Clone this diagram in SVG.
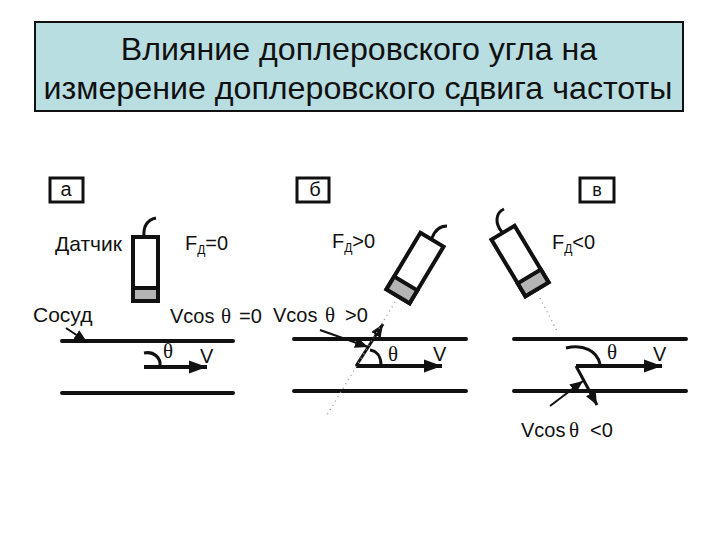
<svg xmlns="http://www.w3.org/2000/svg" width="720" height="540" viewBox="0 0 720 540">
<style>
text{font-family:"Liberation Sans",Arial,sans-serif;fill:#111}
.t{font-size:32.2px;text-anchor:middle}
.l{font-size:20px}
.w{font-size:21px}
.s{font-size:21px;font-family:"Liberation Serif",serif}
.sub{font-size:12px}
.box{fill:#fff;stroke:#111;stroke-width:3}
.ves{stroke:#111;stroke-width:4;stroke-linecap:round;fill:none}
.thin{stroke:#111;stroke-width:2;fill:none}
.med{stroke:#111;stroke-width:3;fill:none}
.body{fill:#fff;stroke:#111;stroke-width:4}
.tip{fill:#b4b4b4;stroke:#111;stroke-width:4}
.dots{stroke:#999;stroke-width:1.4;stroke-dasharray:1 4;fill:none}
</style>
<defs>
<marker id="big" markerUnits="userSpaceOnUse" markerWidth="20" markerHeight="14" refX="18" refY="7" orient="auto"><path d="M0 0.5L18 7L0 13.5z" fill="#111"/></marker>
<marker id="small" markerUnits="userSpaceOnUse" markerWidth="14" markerHeight="12" refX="13" refY="5.5" orient="auto"><path d="M0 0L13 5.5L0 11z" fill="#111"/></marker>
</defs>
<rect width="720" height="540" fill="#fff"/>
<g id="title">
<rect x="35" y="22" width="648" height="89" fill="#b9dee2" stroke="#111" stroke-width="2"/>
<text class="t" x="359" y="60">Влияние доплеровского угла на</text>
<text class="t" x="358" y="99">измерение доплеровского сдвига частоты</text>
</g>
<g id="label-a"><rect class="box" x="50" y="178" width="33" height="24"/><text class="l" x="66" y="196" text-anchor="middle">а</text></g>
<g id="label-b"><rect class="box" x="297" y="178" width="32" height="24"/><text class="l" x="315" y="196" text-anchor="middle">б</text></g>
<g id="label-v"><rect class="box" x="580" y="178" width="34" height="24"/><text class="l" x="597" y="196" style="font-size:18px" text-anchor="middle">в</text></g>
<g id="probe-a">
<path class="med" d="M144 237C143 226 147 220 156 218"/>
<rect class="body" x="133" y="237" width="25" height="64"/>
<rect class="tip" x="133" y="288" width="25" height="13"/>
</g>
<g id="probe-b">
<path class="med" d="M432 238C435 230 440 226 447 226"/>
<g transform="translate(415 268) rotate(31)">
<rect class="body" x="-13.5" y="-33" width="27" height="66"/>
<rect class="tip" x="-13.5" y="18" width="27" height="15"/>
</g>
</g>
<g id="probe-v">
<path class="med" d="M502 232C495 224 495 213 504 209"/>
<g transform="translate(520 261) rotate(-31)">
<rect class="body" x="-13.5" y="-33" width="27" height="66"/>
<rect class="tip" x="-13.5" y="18" width="27" height="15"/>
</g>
</g>
<g id="connectors">
<line class="ves" x1="62" y1="341" x2="233" y2="341"/>
<line class="ves" x1="62" y1="393" x2="233" y2="393"/>
<line class="ves" x1="294" y1="339" x2="466" y2="339"/>
<line class="ves" x1="294" y1="391" x2="466" y2="391"/>
<line class="ves" x1="514" y1="339" x2="686" y2="339"/>
<line class="ves" x1="514" y1="391" x2="686" y2="391"/>
<line class="thin" x1="66" y1="328" x2="87" y2="342" marker-end="url(#small)"/>
<line class="thin" x1="320" y1="330" x2="368" y2="347" marker-end="url(#small)"/>
<line class="thin" x1="550" y1="406" x2="583" y2="381" marker-end="url(#small)"/>
<line x1="144" y1="367" x2="207" y2="367" stroke="#111" stroke-width="4" marker-end="url(#big)"/>
<line x1="356" y1="366" x2="442" y2="366" stroke="#111" stroke-width="4" marker-end="url(#big)"/>
<line x1="576" y1="366" x2="662" y2="366" stroke="#111" stroke-width="4" marker-end="url(#big)"/>
<line class="med" x1="356" y1="366" x2="383" y2="324" marker-end="url(#small)"/>
<line class="med" x1="576" y1="366" x2="597" y2="405" marker-end="url(#small)"/>
<path class="med" d="M144 353C154 351 161 358 160 366"/>
<path class="med" d="M370 350C377 351 381 357 381 365"/>
<path class="med" d="M566 348C584 344 597 351 600 364"/>
<line class="dots" x1="395" y1="302" x2="327" y2="415"/>
<line class="dots" x1="540" y1="298" x2="558" y2="333"/>
</g>
<g id="labels">
<text class="w" x="55" y="251">Датчик</text>
<text class="w" x="33" y="322">Сосуд</text>
<text class="l" x="185" y="250">F<tspan class="sub" dy="4">Д</tspan><tspan dy="-4">=0</tspan></text>
<text class="l" x="332" y="248">F<tspan class="sub" dy="4">Д</tspan><tspan dy="-4">&gt;0</tspan></text>
<text class="l" x="552" y="249">F<tspan class="sub" dy="4">Д</tspan><tspan dy="-4">&lt;0</tspan></text>
<text class="l" x="170" y="323">Vcos</text>
<text class="s" x="221" y="323">θ</text>
<text class="l" x="239" y="323">=0</text>
<text class="l" x="273" y="322">Vcos</text>
<text class="s" x="325" y="322">θ</text>
<text class="l" x="345" y="322">&gt;0</text>
<text class="l" x="521" y="437">Vcos</text>
<text class="s" x="569" y="437">θ</text>
<text class="l" x="590" y="437">&lt;0</text>
<text class="s" x="163" y="358">θ</text>
<text class="s" x="388" y="361">θ</text>
<text class="s" x="607" y="359">θ</text>
<text class="l" x="200" y="363">V</text>
<text class="l" x="433" y="361">V</text>
<text class="l" x="653" y="361">V</text>
</g>
</svg>
